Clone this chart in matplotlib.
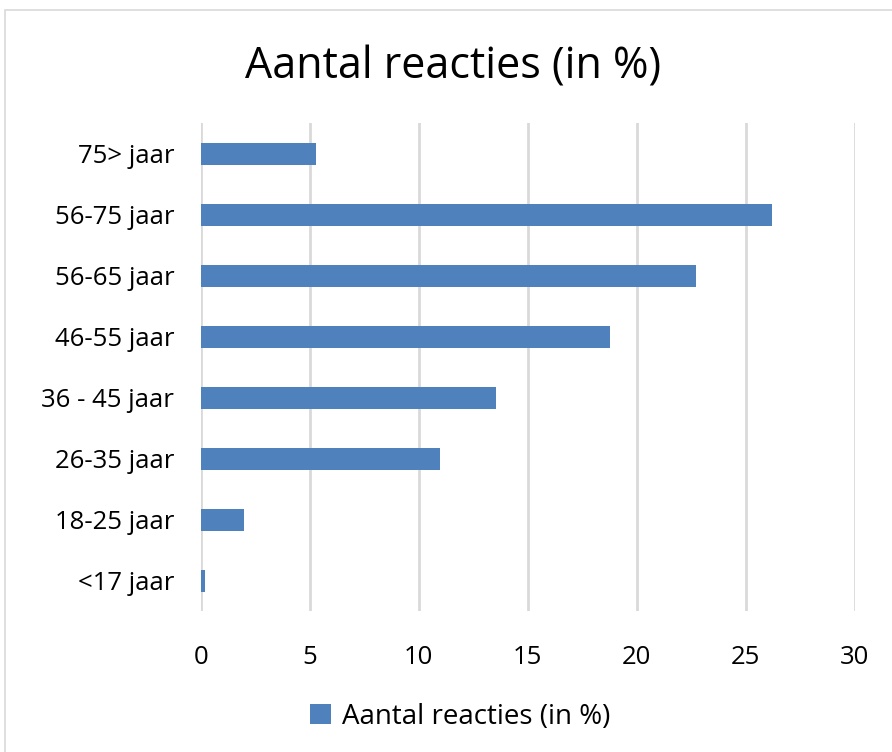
import matplotlib
matplotlib.use("Agg")
import matplotlib.pyplot as plt
from matplotlib.patches import Rectangle

categories = ["<17 jaar", "18-25 jaar", "26-35 jaar", "36 - 45 jaar",
              "46-55 jaar", "56-65 jaar", "56-75 jaar", "75> jaar"]
values = [0.21, 2.0, 11.0, 13.55, 18.8, 22.73, 26.2, 5.28]
xticks = [0, 5, 10, 15, 20, 25, 30]
series_name = "Aantal reacties (in %)"

plt.rcParams['font.family'] = ['Open Sans', 'DejaVu Sans']

fig = plt.figure(figsize=(8.92, 7.52), dpi=100)
ax = fig.add_axes([0.225, 0.187, 0.733, 0.649])

ax.barh(range(len(categories)), values, height=0.35, color="#4F81BD",
        label=series_name, zorder=3)
ax.set_xlim(0, 30)
ax.set_ylim(-0.5, len(categories) - 0.5)
ax.set_xticks(xticks)
ax.set_xticklabels([str(t) for t in xticks], fontsize=18.5)
ax.set_yticks(range(len(categories)))
ax.set_yticklabels(categories, fontsize=18.5)
ax.tick_params(axis='y', length=0, pad=19)
ax.tick_params(axis='x', length=0, pad=24)
ax.xaxis.grid(True, color="#D9D9D9", linewidth=2)
ax.set_axisbelow(True)
for s in ax.spines.values():
    s.set_visible(False)

fig.text(0.508, 0.911, series_name, ha='center', va='center', fontsize=31)

fig.legend(loc='center', bbox_to_anchor=(0.516, 0.047), frameon=False,
           fontsize=20, handlelength=0.75, handleheight=0.75, handletextpad=0.4)

fig.patches.append(Rectangle((0.006, -0.01), 1.0, 0.997, transform=fig.transFigure,
                             fill=False, edgecolor="#D9D9D9", linewidth=1.2))

fig.savefig("out.png", dpi=100)
